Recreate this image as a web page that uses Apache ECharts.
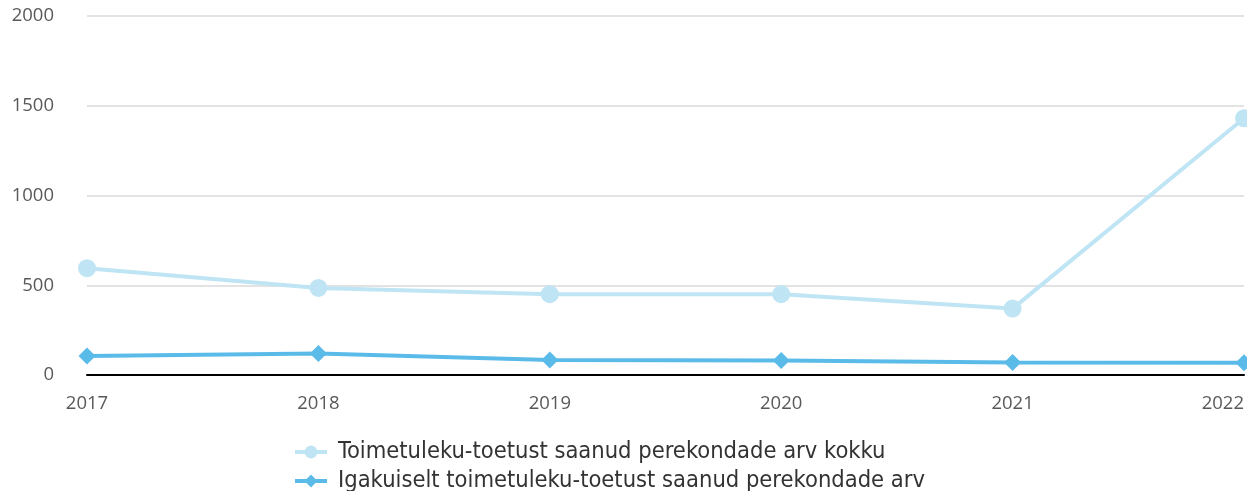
<!DOCTYPE html>
<html>
<head>
<meta charset="utf-8">
<script src="https://cdn.jsdelivr.net/npm/echarts@6/dist/echarts.min.js"></script>
<style>
  html, body { margin: 0; padding: 0; background: #fff; }
  #chart { width: 1247px; height: 491px; }
</style>
</head>
<body>
<div id="chart"></div>
<script>
const years = ['2017', '2018', '2019', '2020', '2021', '2022'];
const yTicks = [0, 500, 1000, 1500, 2000];
const totalFamilies = [595, 485, 450, 450, 370, 1430];
const monthlyFamilies = [106, 120, 83, 81, 70, 68];
const seriesNames = [
  'Toimetuleku-toetust saanud perekondade arv kokku',
  'Igakuiselt toimetuleku-toetust saanud perekondade arv'
];

const chart = echarts.init(document.getElementById('chart'));
chart.setOption({
  animation: false,
  grid: { left: 87, right: 2, top: 16, bottom: 116 },
  xAxis: {
    type: 'category',
    data: years,
    boundaryGap: false,
    axisLine: { lineStyle: { color: '#000', width: 2 } },
    axisTick: { show: false },
    axisLabel: {
      color: '#595959', fontSize: 18.5, fontFamily: 'Open Sans', margin: 19,
      alignMaxLabel: 'right'
    }
  },
  yAxis: {
    type: 'value',
    min: yTicks[0],
    max: yTicks[yTicks.length - 1],
    interval: 500,
    axisLine: { show: false },
    axisTick: { show: false },
    splitLine: { lineStyle: { color: '#e3e3e3', width: 2 } },
    axisLabel: {
      color: '#595959', fontSize: 18.5, fontFamily: 'Open Sans', margin: 33,
      formatter: v => String(v)
    }
  },
  legend: {
    orient: 'vertical',
    left: 293,
    top: 440,
    height: 80,
    padding: 0,
    itemGap: 5,
    itemWidth: 32,
    itemHeight: 16,
    lineStyle: { width: 4 },
    textStyle: {
      color: '#333', fontSize: 23.5, lineHeight: 24,
      fontFamily: 'DejaVu Sans Condensed', padding: [0, 0, 0, 6]
    },
    data: seriesNames
  },
  series: [
    {
      name: seriesNames[0],
      type: 'line',
      data: totalFamilies,
      symbol: 'circle',
      symbolSize: 18,
      lineStyle: { color: '#bfe5f5', width: 4 },
      itemStyle: { color: '#bfe5f5' },
      clip: false
    },
    {
      name: seriesNames[1],
      type: 'line',
      data: monthlyFamilies,
      symbol: 'diamond',
      symbolSize: 17,
      lineStyle: { color: '#5bbbe8', width: 4 },
      itemStyle: { color: '#5bbbe8' },
      clip: false
    }
  ]
});
</script>
</body>
</html>
